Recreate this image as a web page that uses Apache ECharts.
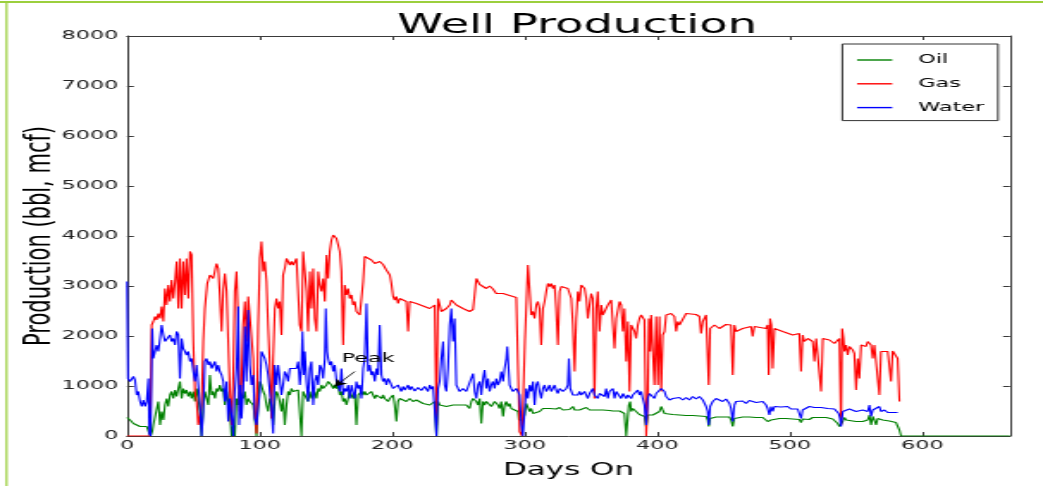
<!DOCTYPE html>
<html><head><meta charset="utf-8">
<script src="https://cdn.jsdelivr.net/npm/echarts/dist/echarts.min.js"></script>
<style>
html,body{margin:0;padding:0;background:#fff;overflow:hidden;}
#wrap{width:1043px;height:486px;overflow:hidden;position:relative;background:#fff;}
#chart{position:absolute;left:0;top:0;width:606px;height:486px;transform-origin:0 0;}
</style></head><body><div id="wrap"><div id="chart"></div></div>
<script>
// ---- data (day, value) ----
const seriesNames = ['Oil', 'Gas', 'Water'];
const seriesColors = ['#008000', '#ff0000', '#0000ff'];

const oilData = [[0,370],[2.3,320],[4.8,250],[7.3,220],[9.8,190],[12.3,150],[14.8,190],[16.8,50],[17.8,0],[19.0,90],[19.8,220],[22.3,250],[23.6,690],[24.9,220],[26.1,490],[27.4,320],[28.6,620],[29.9,750],[31.1,590],[32.4,820],[33.6,890],[34.9,750],[36.2,920],[37.4,790],[38.7,950],[39.9,1090],[41.2,750],[42.4,950],[43.7,850],[44.9,920],[46.2,790],[47.5,890],[48.7,750],[50.0,890],[51.2,690],[52.5,950],[53.7,750],[55.0,490],[56.2,0],[57.5,620],[58.7,890],[60.0,750],[61.3,620],[62.5,1220],[63.8,820],[65.0,890],[66.3,750],[67.5,950],[68.8,890],[70.0,1020],[71.3,890],[72.6,950],[73.8,620],[75.1,890],[76.3,690],[77.6,490],[78.8,0],[80.1,220],[81.3,0],[82.6,750],[83.9,620],[85.1,890],[86.4,820],[87.6,750],[88.9,890],[90.1,620],[91.4,750],[92.6,690],[93.9,720],[95.2,620],[96.4,350],[97.7,0],[98.9,690],[100.2,1090],[101.4,1020],[102.7,890],[103.9,820],[105.2,620],[106.4,490],[107.7,750],[109.0,620],[110.2,220],[111.5,690],[112.7,890],[114.0,820],[115.2,690],[116.5,490],[117.7,750],[119.0,220],[120.3,620],[121.5,890],[122.8,820],[124.0,950],[125.3,890],[127.8,890],[129.1,920],[130.3,890],[131.6,0],[132.8,890],[134.1,820],[135.4,750],[136.6,690],[137.9,890],[139.1,750],[140.4,820],[141.6,890],[142.9,750],[144.2,950],[145.4,890],[146.7,1020],[147.9,950],[149.2,990],[150.4,1020],[151.7,1090],[152.9,1090],[154.2,1020],[155.5,950],[156.7,1020],[158.0,950],[159.2,1020],[160.5,820],[161.7,890],[163.0,690],[164.2,750],[165.5,620],[166.8,750],[168.0,890],[169.3,820],[170.5,750],[171.8,850],[173.0,220],[174.3,820],[175.6,850],[176.8,890],[178.1,820],[179.3,890],[180.6,820],[183.1,790],[184.3,890],[185.6,820],[186.9,750],[188.1,820],[190.6,850],[191.9,750],[193.1,820],[194.4,750],[195.6,790],[196.9,690],[198.2,750],[199.4,720],[200.7,820],[201.9,620],[203.2,290],[204.4,690],[205.7,750],[208.2,720],[210.7,690],[213.2,750],[215.7,690],[218.3,720],[220.8,690],[223.3,650],[225.8,690],[228.3,620],[230.8,650],[232.1,690],[233.4,0],[234.6,690],[235.9,620],[238.4,650],[240.9,590],[243.4,620],[245.9,620],[248.4,650],[250.9,620],[253.4,590],[255.9,620],[258.4,550],[259.7,690],[261.0,750],[262.2,720],[263.5,690],[264.7,620],[266.0,750],[267.2,250],[268.5,690],[269.7,620],[271.0,690],[273.5,650],[274.8,590],[276.0,620],[277.3,690],[279.8,620],[281.0,550],[282.3,690],[283.6,390],[284.8,620],[286.1,690],[287.3,590],[288.6,650],[289.8,550],[292.3,590],[294.9,490],[295.6,320],[298.6,320],[299.9,420],[301.1,650],[302.4,690],[303.7,490],[304.9,550],[306.2,450],[307.4,490],[311.2,490],[313.7,550],[316.2,570],[318.7,550],[321.2,590],[323.7,540],[326.3,570],[328.8,520],[331.3,550],[333.8,530],[336.3,590],[337.6,520],[341.3,520],[343.8,550],[346.4,570],[348.9,520],[351.4,550],[353.9,520],[356.4,550],[358.9,520],[361.4,540],[363.9,510],[366.5,500],[369.0,520],[371.5,500],[374.0,490],[375.2,450],[376.5,0],[377.8,0],[378.5,620],[379.5,690],[380.3,490],[381.5,550],[384.0,520],[386.5,430],[389.0,410],[390.3,390],[391.6,190],[392.8,420],[394.1,450],[396.6,420],[399.1,430],[401.6,490],[402.9,590],[404.1,520],[405.4,450],[406.6,430],[411.7,430],[416.7,420],[421.7,410],[426.7,410],[431.8,400],[436.8,390],[438.0,320],[438.8,190],[439.8,350],[444.3,380],[449.3,380],[454.4,380],[455.6,320],[456.9,190],[458.1,350],[459.4,390],[464.4,380],[469.4,380],[474.5,370],[479.5,370],[482.0,350],[483.2,290],[484.5,250],[485.8,320],[487.0,350],[492.1,350],[497.1,350],[502.1,340],[507.1,330],[508.4,270],[509.6,340],[514.6,330],[517.2,370],[522.3,370],[527.3,370],[529.8,350],[532.3,340],[534.8,320],[536.1,250],[537.3,190],[538.6,150],[539.9,290],[541.1,370],[542.4,320],[544.9,300],[549.9,290],[554.9,290],[557.4,270],[558.7,320],[560.0,420],[561.2,220],[562.5,390],[563.7,320],[565.0,220],[566.2,350],[570.0,320],[575.0,300],[580.0,270],[581.3,250],[582.6,120],[583.8,0],[666,0]];

const gasData = [[0,0],[17.5,0],[18.6,2220],[19.8,2290],[21.1,2390],[22.3,2320],[23.6,2450],[24.9,2350],[26.1,2590],[27.4,2290],[28.6,2950],[29.9,2620],[31.1,3020],[32.4,2690],[33.6,3120],[34.9,2750],[36.2,3090],[37.4,3490],[38.7,2550],[39.9,3550],[41.2,2550],[42.4,3490],[43.7,2820],[44.9,3550],[46.2,2750],[47.5,3690],[48.7,3620],[50.0,1890],[51.2,890],[52.5,690],[53.7,220],[55.0,420],[56.2,620],[57.5,1890],[58.7,2550],[60.5,3050],[62.5,3220],[65.0,3150],[67.5,3450],[68.8,3350],[70.0,2820],[71.3,2090],[72.6,2950],[73.8,3250],[75.1,2890],[76.3,1890],[77.6,890],[78.8,220],[80.1,1220],[81.3,2890],[82.6,3290],[83.9,2220],[85.1,490],[86.4,1090],[87.6,2220],[88.9,2690],[90.1,1890],[91.4,2790],[93.9,2820],[95.2,1550],[96.4,490],[97.7,50],[98.9,2220],[100.2,3550],[101.4,3890],[102.7,3290],[103.9,3490],[105.2,3090],[106.4,2220],[107.7,1420],[109.0,350],[110.2,1550],[111.5,2550],[112.7,2750],[114.0,2550],[115.2,2690],[116.5,2020],[117.7,3220],[119.0,3350],[120.3,3550],[121.5,3590],[122.8,3420],[124.0,3490],[125.3,3420],[127.8,3550],[130.3,2220],[131.6,2090],[132.8,3690],[134.1,3720],[135.4,2890],[136.6,2090],[137.9,3290],[139.1,2550],[140.4,3350],[141.6,2350],[142.9,2090],[144.2,3290],[145.4,3020],[146.7,2890],[147.9,3150],[149.2,2690],[150.4,3620],[151.7,3150],[152.9,3690],[154.2,3920],[155.5,4020],[156.7,3990],[158.0,3950],[159.2,3920],[160.5,3690],[161.7,3290],[163.0,1820],[164.2,3020],[165.5,2820],[166.8,2950],[168.0,2750],[169.3,2820],[170.5,2620],[171.8,2690],[173.0,2490],[175.6,2420],[176.8,2450],[178.1,3090],[179.3,3590],[181.8,3590],[184.3,3520],[186.9,3450],[188.1,3490],[190.6,3490],[193.1,3430],[195.6,3320],[198.2,3220],[199.4,3050],[200.7,2790],[201.9,2720],[203.2,2790],[204.4,2650],[205.7,2750],[208.2,2720],[210.7,2690],[212.0,2090],[213.2,2690],[218.3,2650],[223.3,2600],[228.3,2550],[232.1,2620],[233.4,220],[234.6,2750],[235.9,2620],[237.1,2490],[240.9,2550],[243.4,2620],[244.6,2720],[248.4,2620],[253.4,2550],[258.4,2490],[261.0,2530],[262.2,2550],[263.5,3150],[266.0,3030],[271.0,2950],[273.5,3000],[276.0,2940],[278.5,2850],[281.0,2820],[283.6,2850],[288.6,2810],[293.6,2770],[294.9,2750],[296.1,90],[297.9,0],[299.1,0],[300.1,1890],[302.4,3420],[303.7,2890],[304.9,2420],[306.2,2490],[307.4,2350],[308.7,2620],[309.9,2690],[311.2,2550],[312.4,1820],[313.7,2550],[315.0,2690],[316.2,2890],[317.5,3050],[318.7,2990],[320.0,3050],[321.2,2950],[322.5,3020],[323.7,2550],[325.0,1820],[326.3,2890],[327.5,2990],[330.0,3020],[332.5,2950],[333.8,2920],[335.1,2750],[336.3,2220],[337.6,1290],[338.8,2350],[340.1,2890],[341.3,2690],[342.6,3020],[345.1,2950],[346.4,2750],[347.6,2350],[348.9,2620],[350.1,2850],[351.4,2750],[352.6,750],[353.9,2550],[355.1,2890],[356.4,2090],[357.7,2620],[358.9,2420],[361.4,2450],[362.7,2620],[365.2,2720],[366.5,2690],[367.7,1750],[369.0,2350],[371.5,2690],[372.7,2620],[374.0,2090],[375.2,2550],[376.5,1490],[377.8,2290],[379.0,890],[380.3,2220],[382.8,2090],[384.0,1950],[385.3,2220],[386.5,2350],[387.8,2420],[389.0,2450],[390.3,2320],[391.6,0],[392.8,750],[393.6,2350],[394.6,1690],[395.3,2420],[396.6,1690],[397.8,1020],[399.1,2390],[400.4,1020],[401.6,2390],[402.9,890],[404.1,2020],[405.4,2090],[406.6,2420],[410.4,2450],[412.9,2390],[414.2,2090],[415.4,2290],[416.7,2220],[419.2,2250],[421.7,2450],[423.0,2490],[429.2,2430],[431.8,2390],[433.0,2050],[434.3,2290],[436.8,2420],[438.0,2420],[438.8,1020],[439.8,2150],[443.1,2220],[446.8,2150],[451.8,2230],[455.6,2220],[456.9,1220],[458.1,2220],[459.4,2090],[464.4,2150],[470.7,2190],[471.9,1990],[473.2,2190],[482.0,2150],[483.2,2220],[484.0,1220],[485.0,2350],[486.0,2220],[487.0,1350],[488.3,2150],[494.6,2090],[502.1,2020],[507.1,2050],[508.4,1290],[509.6,2020],[510.9,1890],[513.5,1950],[517.2,1890],[518.5,1490],[519.8,1950],[522.3,1950],[523.5,890],[524.8,1950],[529.8,1920],[533.6,1850],[536.1,1820],[537.3,1950],[538.6,220],[539.4,2150],[540.4,1950],[541.1,1690],[542.4,1820],[543.6,1620],[544.9,1790],[547.4,1720],[548.6,1650],[549.9,920],[551.2,1550],[552.4,1150],[553.7,1820],[557.4,1790],[558.7,1890],[561.2,1820],[562.5,1550],[563.7,1820],[566.2,1820],[567.5,820],[568.7,1690],[573.8,1690],[575.0,1720],[576.3,1090],[577.5,1700],[580.0,1690],[581.3,1550],[582.6,690]];

const waterData = [[0,3090],[0.7,1150],[2.3,1090],[4.8,1190],[6.0,1120],[7.3,820],[8.5,890],[9.8,690],[11.1,590],[12.3,720],[13.6,590],[14.8,690],[16.1,1150],[16.8,50],[17.8,0],[19.0,2150],[19.8,1550],[21.1,1690],[22.3,1820],[23.6,1690],[24.9,1950],[26.1,2220],[27.4,2020],[28.6,1890],[29.9,1920],[31.1,1850],[32.4,2020],[33.6,1890],[34.9,1950],[36.2,1820],[37.4,2090],[38.7,2020],[39.9,1150],[41.2,1950],[42.4,1750],[43.7,1690],[44.9,1620],[46.2,1690],[47.5,1490],[48.7,1550],[50.0,1290],[51.2,1090],[52.5,1420],[53.7,1020],[55.0,620],[56.2,0],[57.5,490],[58.7,1490],[60.0,1550],[61.3,1420],[62.5,1490],[63.8,1350],[65.0,1420],[66.3,1490],[67.5,1290],[68.8,1420],[70.0,1290],[71.3,1220],[72.6,1090],[73.8,690],[75.1,1090],[76.3,290],[77.6,750],[78.8,420],[80.1,0],[81.3,890],[82.6,1350],[83.9,2590],[84.6,220],[85.6,1020],[86.4,350],[87.6,890],[88.9,2190],[90.1,1090],[91.4,2520],[92.6,1420],[93.9,1020],[95.2,1220],[96.4,350],[97.7,220],[98.9,550],[100.2,890],[101.4,1690],[102.7,1690],[103.9,1550],[105.2,1420],[106.4,1220],[107.7,890],[109.0,550],[110.2,50],[111.5,1420],[112.7,1020],[114.0,1420],[115.2,1150],[116.5,820],[117.7,1020],[119.0,1290],[120.3,1220],[121.5,1090],[122.8,1350],[125.3,1390],[127.8,1350],[129.1,1490],[130.3,1020],[131.6,1420],[132.3,2090],[133.3,1220],[134.1,1690],[135.4,1090],[136.6,690],[137.9,1350],[139.1,1490],[140.4,620],[141.6,1090],[142.9,1220],[144.2,1020],[145.4,1420],[146.7,1350],[147.9,1150],[149.2,1550],[149.9,2550],[150.9,1690],[151.7,1550],[152.9,1420],[154.2,1490],[155.5,1290],[156.7,1420],[158.0,1090],[159.2,1020],[160.5,890],[161.7,1350],[163.0,820],[164.2,950],[165.5,890],[166.8,1020],[168.0,750],[169.3,1020],[170.5,890],[171.8,750],[173.0,1090],[174.3,950],[175.6,1020],[176.8,750],[178.1,1350],[179.3,1550],[180.6,2650],[181.8,1290],[183.1,1420],[184.3,1220],[185.6,1290],[186.9,1090],[188.1,1350],[189.4,1220],[190.6,2220],[191.9,1220],[193.1,1090],[194.4,1150],[195.6,1020],[196.9,1150],[198.2,1090],[199.4,1020],[200.7,950],[201.9,990],[203.2,920],[204.4,1020],[205.7,950],[206.9,890],[208.2,990],[209.5,920],[210.7,950],[212.0,1020],[213.2,920],[214.5,990],[215.7,950],[217.0,900],[218.3,890],[219.5,970],[220.8,990],[222.0,910],[223.3,920],[224.5,990],[225.8,950],[227.0,890],[228.3,1020],[229.6,940],[230.8,990],[232.1,950],[233.4,0],[234.6,950],[235.9,1090],[237.1,1550],[238.4,1890],[239.6,1020],[240.9,890],[242.1,1350],[243.4,2220],[244.6,2550],[245.9,1890],[247.1,2350],[248.4,1020],[249.7,950],[250.9,890],[253.4,950],[255.9,890],[261.0,1250],[262.2,890],[263.5,750],[264.7,1020],[266.0,1090],[267.2,820],[268.5,1150],[269.7,1320],[271.0,950],[272.3,1150],[273.5,890],[274.8,1020],[276.0,1090],[277.3,950],[278.5,1150],[279.8,1020],[281.0,1090],[282.3,1290],[283.6,1090],[284.8,1350],[286.1,1550],[286.8,1790],[287.8,1350],[288.6,1020],[289.8,950],[291.1,890],[293.6,950],[294.9,890],[296.1,820],[297.4,220],[298.6,0],[300.1,0],[301.1,950],[302.4,750],[303.7,1020],[304.9,890],[306.2,1090],[307.4,620],[308.7,1020],[309.9,1090],[311.2,890],[312.4,750],[313.7,950],[315.0,1020],[316.2,890],[317.5,950],[318.7,1020],[320.0,890],[321.2,950],[322.5,1020],[323.7,920],[325.0,850],[326.3,950],[328.8,890],[331.3,950],[332.5,1020],[333.3,1550],[334.3,950],[336.3,820],[338.8,850],[340.1,820],[341.3,890],[342.6,820],[345.1,890],[347.6,750],[348.9,850],[351.4,950],[352.6,820],[355.1,750],[356.4,850],[358.9,890],[360.2,790],[361.4,950],[362.7,750],[363.9,890],[366.5,950],[367.7,750],[369.0,890],[371.5,920],[372.7,750],[374.0,850],[376.5,750],[377.8,820],[380.3,750],[381.5,820],[384.0,820],[385.3,920],[386.5,820],[387.8,890],[389.0,750],[390.3,620],[391.6,220],[392.8,750],[394.1,850],[395.3,890],[396.6,820],[397.8,750],[399.1,850],[400.4,820],[401.6,890],[402.9,950],[404.1,990],[405.4,890],[406.6,790],[409.1,720],[411.7,750],[414.2,740],[416.7,770],[419.2,720],[421.7,770],[424.2,720],[426.7,790],[429.2,740],[431.8,790],[434.3,720],[436.8,590],[438.0,490],[438.8,220],[439.8,590],[441.8,690],[444.3,750],[446.8,720],[449.3,690],[451.8,740],[454.4,650],[455.6,550],[456.9,290],[458.1,620],[459.4,690],[461.9,650],[464.4,700],[466.9,650],[469.4,710],[471.9,720],[474.5,670],[477.0,650],[479.5,690],[482.0,620],[483.2,550],[484.5,420],[485.8,590],[487.0,490],[488.3,590],[490.8,550],[493.3,580],[495.8,550],[498.3,590],[500.8,540],[503.3,570],[505.9,540],[508.4,350],[509.6,520],[512.1,550],[514.7,590],[516.0,620],[518.5,570],[521.0,590],[523.5,570],[526.0,590],[528.6,550],[531.1,570],[533.6,540],[535.3,510],[536.8,450],[537.8,350],[538.6,190],[539.9,490],[542.4,520],[544.9,540],[547.4,500],[549.9,490],[551.2,450],[552.4,490],[554.9,520],[557.4,540],[558.7,490],[560.0,620],[561.2,390],[562.5,520],[565.0,490],[567.5,590],[568.7,490],[571.3,520],[573.8,470],[576.3,450],[578.8,470],[581.3,470]];

const peakText = 'Peak';
const peakLabelAt = [161.8, 1540];
const peakArrowFrom = [171.8, 1290];
const peakArrowTo = [156.7, 990];
const xMin = 0, xMax = 666, xStep = 100;
const yMin = 0, yMax = 8000, yStep = 1000;

// ---- layout ----
// the reference figure is horizontally stretched; draw on a narrower canvas and stretch it the same way
const FULL_W = 1043, CANVAS_W = 606;
const S = FULL_W / CANVAS_W;
const el = document.getElementById('chart');
el.style.transform = 'scaleX(' + S + ')';

const FONT = 'DejaVu Sans';
const frameColor = '#3a3a3a';
const tickStyle = {inside: true, length: 4, lineStyle: {color: frameColor, width: 1}};
const lineFrame = {show: true, onZero: false, lineStyle: {color: frameColor, width: 1}};
const plainNumber = v => String(v);

const chart = echarts.init(el, null, {renderer: 'canvas'});
const series = [oilData, gasData, waterData].map((d, i) => ({
  name: seriesNames[i],
  type: 'line',
  data: d,
  xAxisIndex: 0, yAxisIndex: 0,
  showSymbol: false, symbol: 'none',
  color: seriesColors[i],
  itemStyle: {color: seriesColors[i]},
  lineStyle: {color: seriesColors[i], width: 1.1},
  emphasis: {disabled: true},
  animation: false,
  clip: true
}));
series[0].markLine = {
  silent: true, animation: false,
  symbol: ['none', 'arrow'], symbolSize: [6, 7],
  label: {show: false},
  lineStyle: {color: '#000', width: 0.8, type: 'solid'},
  data: [[{coord: peakArrowFrom}, {coord: peakArrowTo}]]
};
series[0].markPoint = {
  silent: true, animation: false,
  symbol: 'circle', symbolSize: 0,
  data: [{coord: peakLabelAt, value: 0,
    label: {show: true, formatter: peakText, position: 'right', distance: 0,
      color: '#000', fontFamily: FONT, fontSize: 13}}]
};

chart.setOption({
  animation: false,
  backgroundColor: '#fff',
  textStyle: {fontFamily: FONT},
  title: {
    text: 'Well Production',
    left: (73.8 + (CANVAS_W - 19.2)) / 2, top: 7, textAlign: 'center',
    textStyle: {fontFamily: FONT, fontSize: 27, fontWeight: 'normal', color: '#000'}
  },
  legend: {
    orient: 'vertical', left: 489.4, top: 44,
    padding: [9, 8, 6, 8.6], itemGap: 9.8, itemWidth: 20.4, itemHeight: 1.4,
    icon: 'rect', selectedMode: false,
    borderColor: '#333', borderWidth: 1, borderRadius: 0, backgroundColor: '#fff',
    textStyle: {fontFamily: FONT, fontSize: 13, color: '#000', lineHeight: 14, padding: [0, 0, 0, 10]},
    data: seriesNames
  },
  grid: {left: 73.8, right: 19.2, top: 36, bottom: 50, outerBoundsMode: 'none', containLabel: false},
  xAxis: [{
    type: 'value', position: 'bottom', min: xMin, max: xMax, interval: xStep,
    axisLine: lineFrame, axisTick: tickStyle, splitLine: {show: false},
    axisLabel: {color: '#222', fontFamily: FONT, fontSize: 13, margin: 3, showMaxLabel: false, formatter: plainNumber},
    name: 'Days On', nameLocation: 'middle', nameGap: 25, nameMoveOverlap: false,
    nameTextStyle: {fontFamily: FONT, fontSize: 18, color: '#000'}
  }, {
    type: 'value', position: 'top', min: xMin, max: xMax, interval: xStep,
    axisLine: lineFrame, axisTick: tickStyle, splitLine: {show: false}, axisLabel: {show: false}
  }],
  yAxis: [{
    type: 'value', position: 'left', min: yMin, max: yMax, interval: yStep,
    axisLine: lineFrame, axisTick: tickStyle, splitLine: {show: false},
    axisLabel: {color: '#222', fontFamily: FONT, fontSize: 13, margin: 5, formatter: plainNumber},
    name: 'Production (bbl, mcf)', nameLocation: 'middle', nameGap: 40, nameMoveOverlap: false,
    nameTextStyle: {fontFamily: FONT, fontSize: 21, color: '#000'}
  }, {
    type: 'value', position: 'right', min: yMin, max: yMax, interval: yStep,
    axisLine: lineFrame, axisTick: tickStyle, splitLine: {show: false}, axisLabel: {show: false}
  }],
  graphic: [
    {type: 'rect', silent: true, z: 100, shape: {x: 0, y: 1, width: CANVAS_W, height: 2}, style: {fill: '#9ccf3e'}},
    {type: 'rect', silent: true, z: 100, shape: {x: 3.2, y: 1, width: 1.2, height: 486}, style: {fill: '#9ccf3e'}}
  ],
  series: series
});
</script>
</body></html>
